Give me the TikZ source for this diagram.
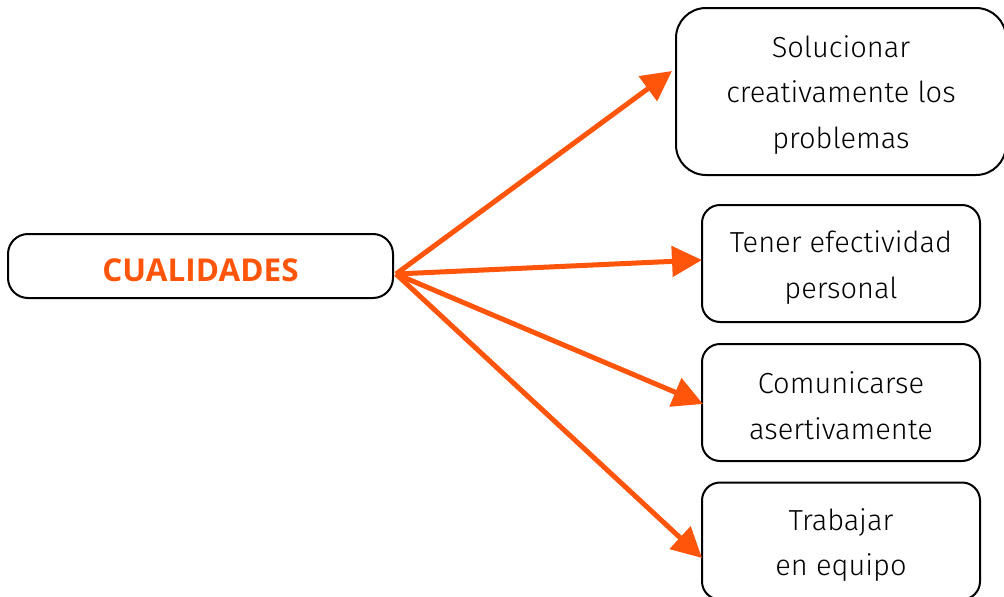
\documentclass[tikz,border=0pt]{standalone}
\usepackage{fontspec}
\setmainfont{Fira Sans Light}
\newfontfamily\boldfont{Open Sans}
\usetikzlibrary{arrows.meta}
\definecolor{orng}{RGB}{255,85,10}
\tikzset{
  box/.style={draw=black, line width=2pt, inner sep=0pt},
  txt/.style={align=center, inner sep=0pt, font=\fontsize{29}{45.5}\selectfont},
  arr/.style={draw=orng, line width=5pt, -{Triangle[length=30pt,width=30pt]}}
}
\begin{document}
\begin{tikzpicture}[x=1pt,y=-1pt]
\clip (0,0) rectangle (1004,597);
\fill[white] (0,0) rectangle (1004,597);
\node[box, rounded corners=20pt, minimum width=385pt, minimum height=64pt] (c) at (200.5,266) {};
\node[font=\boldfont\bfseries\fontsize{31.5}{36}\selectfont, text=orng] (ct) at (200.5,270) {CUALIDADES};
\node[box, rounded corners=30pt, minimum width=330pt, minimum height=167pt] (b1) at (841,91.5) {};
\node[txt] (b1t) at ([yshift=-3.5pt]b1.center) {Solucionar\\creativamente los\\problemas};
\node[box, rounded corners=18pt, minimum width=278pt, minimum height=117pt] (b2) at (841,263.5) {};
\node[txt] (b2t) at ([yshift=-4pt]b2.center) {Tener efectividad\\personal};
\node[box, rounded corners=18pt, minimum width=278pt, minimum height=117pt] (b3) at (841,402.5) {};
\node[txt] (b3t) at ([yshift=-3pt]b3.center) {Comunicarse\\asertivamente};
\node[box, rounded corners=18pt, minimum width=278pt, minimum height=117pt] (b4) at (841,541) {};
\node[txt] (b4t) at ([yshift=-4pt]b4.center) {Trabajar\\en equipo};
\coordinate (s) at (396,274);
\coordinate (t1) at (672,71);
\coordinate (t2) at (702,260);
\coordinate (t3) at (703,404);
\coordinate (t4) at (702,558);
\draw[arr] (s) -- (t1);
\draw[arr] (s) -- (t2);
\draw[arr] (s) -- (t3);
\draw[arr] (s) -- (t4);
\end{tikzpicture}
\end{document}
